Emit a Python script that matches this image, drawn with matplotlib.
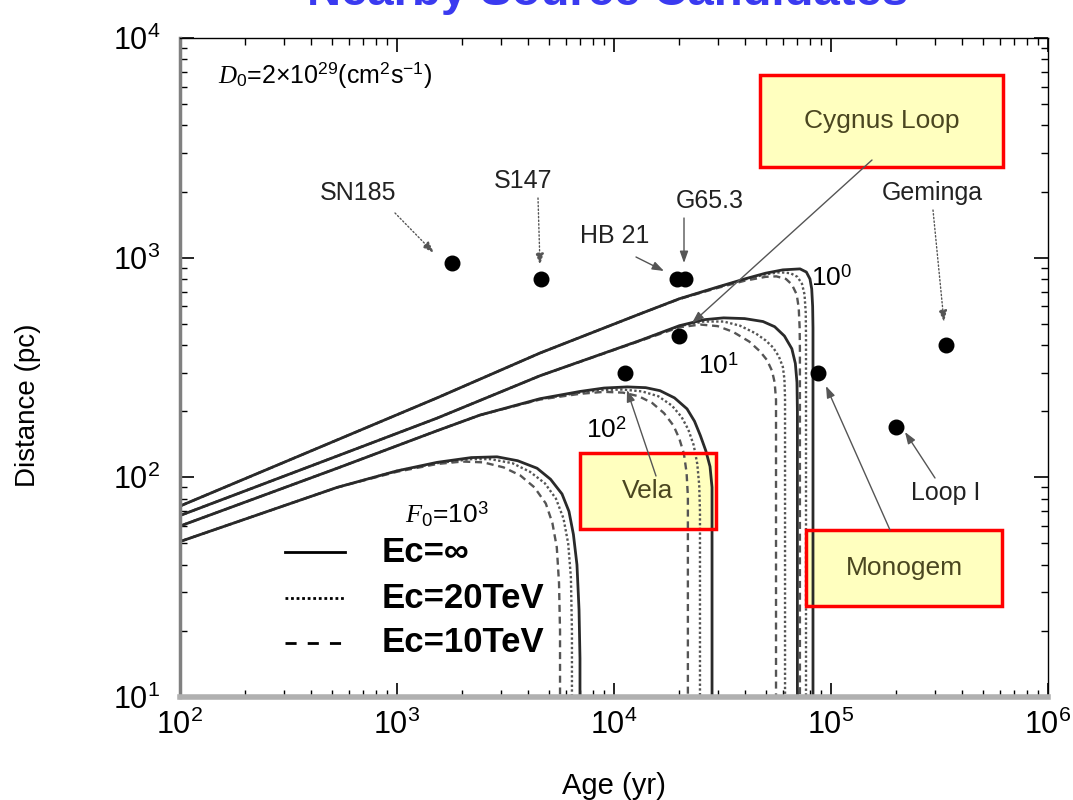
import matplotlib
matplotlib.use("Agg")
import matplotlib.pyplot as plt
from matplotlib.patches import Rectangle

plt.rcParams['font.family'] = ['Liberation Sans', 'DejaVu Sans']
plt.rcParams['mathtext.fontset'] = 'custom'
plt.rcParams['mathtext.rm'] = 'Liberation Sans'
plt.rcParams['mathtext.it'] = 'Liberation Serif:italic'

# ---- curves: (age [yr], distance [pc]) ----
f1_inf = [(100, 74), (530, 148), (1.53e3, 230), (4.56e3, 368), (1.32e4, 555), (2.0e4, 650),
          (3.0e4, 735), (4.0e4, 800), (5.0e4, 850), (6.0e4, 880), (7.2e4, 889), (7.7e4, 860),
          (8.0e4, 800), (8.15e4, 720), (8.23e4, 600), (8.26e4, 480), (8.26e4, 10)]
f1_20 = [(100, 74), (530, 148), (1.53e3, 230), (4.56e3, 368), (1.32e4, 555), (2.0e4, 650),
         (3.0e4, 733), (4.0e4, 795), (5.0e4, 840), (5.8e4, 858), (6.5e4, 850), (7.0e4, 818),
         (7.35e4, 760), (7.55e4, 680), (7.65e4, 560), (7.67e4, 430), (7.67e4, 10)]
f1_10 = [(100, 74), (530, 148), (1.53e3, 230), (4.56e3, 368), (1.32e4, 555), (2.0e4, 648),
         (3.0e4, 728), (4.0e4, 785), (5.0e4, 818), (5.6e4, 822), (6.2e4, 800), (6.6e4, 755),
         (6.95e4, 680), (7.1e4, 590), (7.17e4, 480), (7.19e4, 380), (7.19e4, 10)]

f10_inf = [(100, 67), (530, 125), (1.53e3, 186), (4.56e3, 290), (1.32e4, 420), (2.0e4, 490),
           (2.6e4, 522), (3.2e4, 532), (4.0e4, 528), (4.86e4, 512), (5.5e4, 485), (6.1e4, 440),
           (6.6e4, 385), (6.85e4, 330), (6.97e4, 270), (7.0e4, 200), (7.0e4, 10)]
f10_20 = [(100, 67), (530, 125), (1.53e3, 186), (4.56e3, 290), (1.32e4, 420), (2.0e4, 488),
          (2.6e4, 512), (3.2e4, 512), (3.81e4, 490), (4.5e4, 452), (5.0e4, 420), (5.41e4, 390),
          (5.75e4, 355), (6.0e4, 318), (6.1e4, 280), (6.14e4, 230), (6.14e4, 10)]
f10_10 = [(100, 67), (530, 125), (1.53e3, 186), (4.56e3, 290), (1.32e4, 418), (2.0e4, 482),
          (2.5e4, 496), (3.0e4, 488), (3.53e4, 460), (4.2e4, 415), (4.7e4, 375), (5.07e4, 342),
          (5.35e4, 305), (5.5e4, 270), (5.58e4, 225), (5.58e4, 10)]

f100_inf = [(100, 60), (530, 110), (1.53e3, 163), (2.41e3, 192), (4.56e3, 228), (6.97e3, 246),
            (9.0e3, 255), (1.15e4, 258), (1.4e4, 256), (1.63e4, 248), (1.9e4, 230), (2.17e4, 205),
            (2.35e4, 180), (2.5e4, 155), (2.65e4, 132), (2.77e4, 112), (2.83e4, 90), (2.83e4, 10)]
f100_20 = [(100, 60), (530, 110), (1.53e3, 163), (2.41e3, 192), (4.56e3, 227), (6.97e3, 243),
           (9.0e3, 250), (1.1e4, 251), (1.35e4, 246), (1.6e4, 234), (1.85e4, 212), (2.05e4, 188),
           (2.2e4, 165), (2.33e4, 140), (2.42e4, 115), (2.47e4, 92), (2.49e4, 70), (2.49e4, 10)]
f100_10 = [(100, 60), (530, 110), (1.53e3, 163), (2.41e3, 192), (4.56e3, 226), (6.97e3, 240),
           (9.0e3, 245), (1.1e4, 243), (1.3e4, 234), (1.5e4, 218), (1.7e4, 196), (1.88e4, 172),
           (2.0e4, 150), (2.1e4, 128), (2.16e4, 105), (2.19e4, 82), (2.19e4, 10)]

f1000_inf = [(100, 51), (530, 90), (1.0e3, 107), (1.53e3, 117), (2.2e3, 123), (2.89e3, 124),
             (3.6e3, 119), (4.42e3, 110), (5.1e3, 98), (5.76e3, 84), (6.2e3, 70), (6.5e3, 55),
             (6.75e3, 40), (6.9e3, 25), (6.97e3, 15), (6.97e3, 10)]
f1000_20 = [(100, 51), (530, 90), (1.0e3, 107), (1.53e3, 116), (2.2e3, 121), (2.7e3, 121),
            (3.4e3, 116), (4.1e3, 106), (4.8e3, 94), (5.4e3, 80), (5.85e3, 65), (6.15e3, 50),
            (6.33e3, 35), (6.4e3, 20), (6.4e3, 10)]
f1000_10 = [(100, 51), (530, 90), (1.0e3, 106), (1.53e3, 115), (2.0e3, 118), (2.5e3, 117),
            (3.1e3, 111), (3.7e3, 102), (4.3e3, 90), (4.85e3, 76), (5.2e3, 62), (5.45e3, 48),
            (5.58e3, 33), (5.64e3, 20), (5.64e3, 10)]

curves_inf = [f1_inf, f10_inf, f100_inf, f1000_inf]
curves_20 = [f1_20, f10_20, f100_20, f1000_20]
curves_10 = [f1_10, f10_10, f100_10, f1000_10]

# ---- nearby sources ----
src_names = ['SN185', 'S147', 'HB 21', 'G65.3', 'Cygnus Loop', 'Vela', 'Monogem', 'Geminga', 'Loop I']
src_age = [1.8e3, 4.6e3, 1.95e4, 2.12e4, 2.0e4, 1.12e4, 8.7e4, 3.4e5, 2.0e5]
src_dist = [950, 800, 800, 800, 440, 300, 300, 400, 170]

legend_labels = ['Ec=\u221e', 'Ec=20TeV', 'Ec=10TeV']

fig = plt.figure(figsize=(10.73, 8.0), dpi=100)
ax = fig.add_axes([180 / 1073, 1 - 697 / 800, 868 / 1073, 659 / 800])
ax.set_xscale('log')
ax.set_yscale('log')
ax.set_xlim(1e2, 1e6)
ax.set_ylim(1e1, 1e4)

for c in curves_10:
    ax.plot([p[0] for p in c], [p[1] for p in c], color='#555555', lw=1.7, ls=(0, (3, 2)), zorder=2)
for c in curves_20:
    ax.plot([p[0] for p in c], [p[1] for p in c], color='#555555', lw=1.7, ls=(0, (1, 1)), zorder=2)
for c in curves_inf:
    ax.plot([p[0] for p in c], [p[1] for p in c], color='#2a2a2a', lw=2.0, zorder=2)

ax.scatter(src_age, src_dist, s=110, color='black', zorder=5)


def fx(px):
    return (px - 180) / 868


def fy(py):
    return (697 - py) / 659


# highlighted boxes (pixel corners of the original picture)
boxes = {'Cygnus Loop': (760, 75, 1003, 167), 'Vela': (580, 453, 716, 529), 'Monogem': (806, 530, 1002, 606)}
for name, (x0, y0, x1, y1) in boxes.items():
    ax.add_patch(Rectangle((fx(x0), fy(y1)), fx(x1) - fx(x0), fy(y0) - fy(y1), transform=ax.transAxes,
                           facecolor='#ffffaa', alpha=0.75, edgecolor='none', zorder=1.5))
    ax.add_patch(Rectangle((fx(x0), fy(y1)), fx(x1) - fx(x0), fy(y0) - fy(y1), transform=ax.transAxes,
                           facecolor='none', edgecolor='#ff0000', lw=2.5, zorder=6))
    ax.text(fx((x0 + x1) / 2), fy((y0 + y1) / 2), name, transform=ax.transAxes, ha='center', va='center',
            fontsize=19, color='#4a4620', zorder=7)

# source labels and arrows (pixel positions of the original)
label_pos = {'SN185': (358, 193), 'S147': (523, 181), 'HB 21': (615, 236), 'G65.3': (710, 201),
             'Geminga': (932, 193), 'Loop I': (946, 493)}
for name, (px, py) in label_pos.items():
    ax.text(fx(px), fy(py), name, transform=ax.transAxes, ha='center', va='center', fontsize=18,
            color='#222222')

arrows = [((395, 213), (434, 253), ':'), ((538, 198), (540, 265), ':'), ((636, 257), (664, 271), '-'),
          ((684, 218), (684, 263), '-'), ((872, 160), (692, 323), '-'), ((656, 476), (627, 390), '-'),
          ((890, 530), (826, 386), '-'), ((933, 210), (944, 322), ':'), ((935, 478), (905, 432), '-')]
for (tx, ty), (hx, hy), ls in arrows:
    ax.annotate('', xy=(fx(hx), fy(hy)), xytext=(fx(tx), fy(ty)), xycoords='axes fraction',
                arrowprops=dict(arrowstyle='-|>,head_length=0.7,head_width=0.25', color='#555555',
                                lw=1.0, ls=ls, shrinkA=0, shrinkB=0), zorder=6)

# curve labels
ax.text(fx(832), fy(278), r'$10^0$', transform=ax.transAxes, ha='center', va='center', fontsize=19)
ax.text(fx(718), fy(366), r'$10^1$', transform=ax.transAxes, ha='center', va='center', fontsize=19)
ax.text(fx(606), fy(430), r'$10^2$', transform=ax.transAxes, ha='center', va='center', fontsize=19)
ax.text(fx(447), fy(514), r'$\mathit{F}_0$=10$^3$', transform=ax.transAxes, ha='center', va='center',
        fontsize=19)
ax.text(fx(218), fy(75), r'$\mathit{D}_0$=2$\times$10$^{29}$(cm$^2$s$^{-1}$)', transform=ax.transAxes,
        ha='left', va='center', fontsize=18)

# legend drawn by hand
leg_styles = ['-', (0, (1, 1)), (0, (4, 4))]
leg_y = [552, 598, 643]
for lab, ls, py in zip(legend_labels, leg_styles, leg_y):
    ax.plot([fx(285), fx(345)], [fy(py), fy(py)], transform=ax.transAxes, color='black', lw=2, ls=ls)
    ax.text(fx(382), fy(py), lab, transform=ax.transAxes, ha='left', va='center', fontsize=25,
            fontweight='bold')

ax.tick_params(which='both', direction='in', top=True, right=True, labelsize=22, pad=9)
ax.tick_params(which='major', length=10, width=1.2)
ax.tick_params(which='minor', length=5, width=1.0)
ax.tick_params(axis='y', pad=14)
ax.spines['left'].set_color('#808080')
ax.spines['left'].set_linewidth(2.5)
ax.spines['bottom'].set_color('#b0b0b0')
ax.spines['bottom'].set_linewidth(4)
ax.spines['top'].set_linewidth(1)
ax.spines['right'].set_linewidth(1)

fig.text(28 / 1073, 1 - 405 / 800, 'Distance (pc)', rotation=90, ha='center', va='center', fontsize=20)
fig.text(614 / 1073, 1 - 772 / 800, 'Age (yr)', ha='center', va='top', fontsize=21)
fig.text(608 / 1073, 1 - 5 / 800, 'Nearby Source Candidates', ha='center', va='baseline', fontsize=34,
         fontweight='bold', color='#3a3af0')

fig.savefig('out.png', dpi=100)
